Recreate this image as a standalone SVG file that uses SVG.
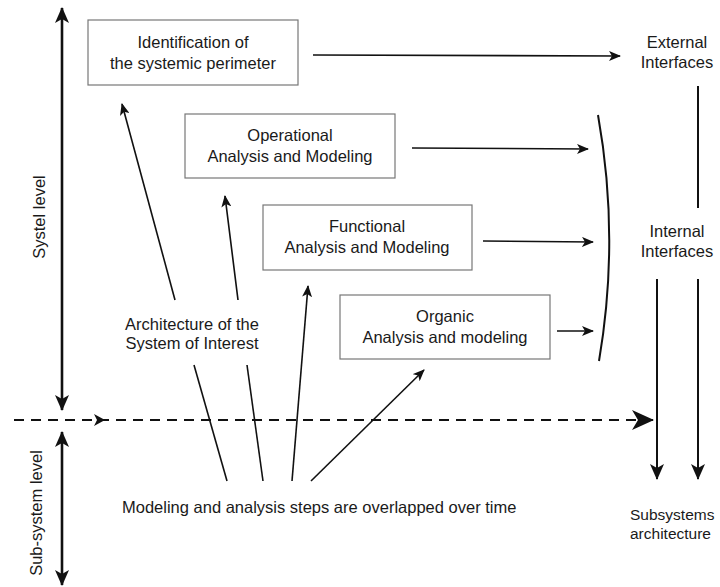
<svg xmlns="http://www.w3.org/2000/svg" width="720" height="587" viewBox="0 0 720 587">
<style>
text{font-family:"Liberation Sans","Open Sans",sans-serif;font-size:16.5px;fill:#1a1a1a}
.box{fill:#fff;stroke:#777;stroke-width:1.2}
.ln{stroke:#111;stroke-width:1.6;fill:none}
.thk{stroke:#111;stroke-width:2.6;fill:none}
.mid{stroke:#111;stroke-width:2;fill:none}
.c{text-anchor:middle}
</style>
<defs>
<marker id="ah" viewBox="0 0 12 10" refX="11" refY="5" markerWidth="12" markerHeight="10" markerUnits="userSpaceOnUse" orient="auto">
<path d="M0,0 L12,5 L0,10 L3,5 z" fill="#111"/>
</marker>
<marker id="ahb" viewBox="0 0 16 14" refX="15" refY="7" markerWidth="16" markerHeight="14" markerUnits="userSpaceOnUse" orient="auto">
<path d="M0,0 L16,7 L0,14 L4,7 z" fill="#111"/>
</marker>
<marker id="ahbs" viewBox="0 0 16 14" refX="1" refY="7" markerWidth="16" markerHeight="14" markerUnits="userSpaceOnUse" orient="auto">
<path d="M16,0 L0,7 L16,14 L12,7 z" fill="#111"/>
</marker>
<marker id="ahd" viewBox="0 0 22 20" refX="21" refY="10" markerWidth="22" markerHeight="20" markerUnits="userSpaceOnUse" orient="auto">
<path d="M0,0 L22,10 L0,20 L6,10 z" fill="#111"/>
</marker>
</defs>

<g id="n-identification">
<rect class="box" x="88" y="20" width="210" height="65"/>
<text class="c" x="193" y="48">Identification of</text>
<text class="c" x="193" y="69">the systemic perimeter</text>
</g>
<g id="n-operational">
<rect class="box" x="185" y="114" width="210" height="64"/>
<text class="c" x="290" y="141">Operational</text>
<text class="c" x="290" y="162">Analysis and Modeling</text>
</g>
<g id="n-functional">
<rect class="box" x="263" y="205" width="209" height="65"/>
<text class="c" x="367" y="232">Functional</text>
<text class="c" x="367" y="253">Analysis and Modeling</text>
</g>
<g id="n-organic">
<rect class="box" x="340" y="295" width="210" height="64"/>
<text class="c" x="445" y="322">Organic</text>
<text class="c" x="445" y="343">Analysis and modeling</text>
</g>
<g id="n-external">
<text class="c" x="677" y="48">External</text>
<text class="c" x="677" y="68">Interfaces</text>
</g>
<g id="n-internal">
<text class="c" x="677" y="237">Internal</text>
<text class="c" x="677" y="257">Interfaces</text>
</g>
<g id="n-subsystems">
<text x="630" y="520" style="font-size:15.5px">Subsystems</text>
<text x="630" y="539" style="font-size:15.5px">architecture</text>
</g>
<g id="n-architecture">
<text class="c" x="192" y="330">Architecture of the</text>
<text class="c" x="192" y="349">System of Interest</text>
</g>
<g id="n-steps">
<text x="122" y="513">Modeling and analysis steps are overlapped over time</text>
</g>
<g id="n-levels">
<text class="c" transform="translate(45,217) rotate(-90)">Systel level</text>
<text class="c" transform="translate(42,513) rotate(-90)">Sub-system level</text>
</g>

<g id="connectors">
<line class="thk" x1="62" y1="8" x2="62" y2="410" marker-start="url(#ahbs)" marker-end="url(#ahb)"/>
<line class="thk" x1="62" y1="432" x2="62" y2="585" marker-start="url(#ahbs)" marker-end="url(#ahb)"/>
<line class="mid" x1="14" y1="420" x2="653" y2="420" stroke-dasharray="10,7" marker-end="url(#ahd)"/>
<path d="M94,414 L105,420 L94,426 L97,420 z" fill="#111"/>
<line class="ln" x1="313" y1="55" x2="620" y2="56" marker-end="url(#ah)"/>
<line class="ln" x1="412" y1="148" x2="588" y2="149" marker-end="url(#ah)"/>
<line class="ln" x1="483" y1="241" x2="593" y2="242" marker-end="url(#ah)"/>
<line class="ln" x1="557" y1="331" x2="593" y2="331" marker-end="url(#ah)"/>
<path class="mid" d="M598,115 Q620,238 599,361"/>
<line class="mid" x1="698" y1="86" x2="698" y2="208"/>
<line class="mid" x1="657" y1="279" x2="657" y2="479" marker-end="url(#ahb)"/>
<line class="mid" x1="698" y1="279" x2="698" y2="479" marker-end="url(#ahb)"/>
<line class="ln" x1="175" y1="300" x2="122" y2="104" marker-end="url(#ah)"/>
<line class="ln" x1="238" y1="300" x2="225" y2="196" marker-end="url(#ah)"/>
<line class="ln" x1="194" y1="365" x2="227" y2="481"/>
<line class="ln" x1="247" y1="365" x2="263" y2="481"/>
<line class="ln" x1="292" y1="481" x2="308" y2="286" marker-end="url(#ah)"/>
<line class="ln" x1="311" y1="481" x2="424" y2="370" marker-end="url(#ah)"/>
</g>
</svg>
